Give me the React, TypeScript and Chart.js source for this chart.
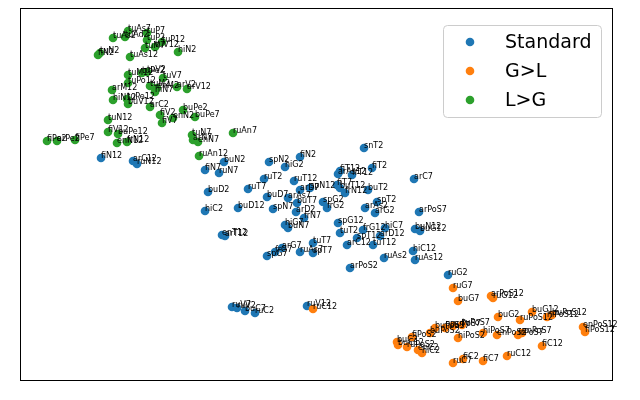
import { useEffect, useRef } from "react";
import { Chart, ScatterController, PointElement, LinearScale } from "chart.js";
import type { Plugin } from "chart.js";

Chart.register(ScatterController, PointElement, LinearScale);

// series names (legend order)
const seriesNames = ["Standard", "G>L", "L>G"];
const seriesColors = ["#1f77b4", "#ff7f0e", "#2ca02c"];

// Standard
const stdLabels = [
  "snT2", "fiN2", "spN2", "hiG2", "buN2", "fiN7", "ruN7", "ruT2", "ruT12", "ruT7",
  "buD2", "buD7", "arAs7", "arD7", "spN12", "buT7", "spG2", "frG2", "hiC2", "buD12",
  "spN7", "arD2", "frN7", "hiG7", "buN7", "enT12", "arT12", "fiT12", "arAs12", "frT12",
  "fiT2", "fiT7", "buT12", "frN12", "buT2", "arC7", "spT2", "arAs2", "arG2", "arPoS7",
  "spG12", "tuT2", "frG12", "hiC7", "arD12", "spT12", "arC12", "tuT12", "buN12", "buG12",
  "tuT7", "spT7", "ruAs7", "arG7", "frG7", "spG7", "arPoS2", "ruAs2", "hiC12", "ruAs12",
  "ruG2", "ruV7", "ruV2", "buC7", "ruC2", "ruV12", "fiN12", "arC12", "ruN12",
];
const stdX = [
  344, 280, 249, 265, 204, 185, 199, 244, 274, 228,
  188, 247, 268, 280, 290, 277, 303, 307, 185, 218,
  253, 276, 284, 265, 268, 202, 205, 320, 318, 332,
  352, 317, 320, 325, 348, 394, 357, 345, 355, 399,
  318, 320, 343, 365, 360, 337, 327, 353, 395, 400,
  293, 293, 280, 262, 255, 247, 330, 364, 393, 395,
  428, 212, 217, 225, 235, 287, 81, 113, 117,
];
const stdY = [
  232, 223, 218, 213, 218, 210, 207, 201, 199, 191,
  188, 183, 182, 190, 192, 177, 178, 172, 169, 172,
  171, 168, 162, 155, 152, 145, 144, 209, 206, 205,
  212, 195, 192, 187, 190, 201, 178, 172, 167, 168,
  157, 147, 150, 152, 144, 142, 135, 135, 151, 149,
  137, 127, 128, 132, 128, 124, 112, 122, 129, 120,
  105, 73, 72, 69, 67, 74, 222, 219, 216,
];

// G>L
const glLabels = [
  "ruC12", "ruG7", "buG7", "arPoS12", "ruG12", "buG2", "buG12", "ruPoS12", "hiPoS12", "buPoS12",
  "enPoS12", "fiPoS12", "fiC12", "ruC12", "fiC7", "fiC2", "ruC7", "hiPoS2", "enPoS7", "enPoS2",
  "hiPoS7", "buPoS7", "fiPoS7", "ruPoS7", "tuPoS7", "buPoS2", "fiPoS2", "buC2", "buC12", "ruPoS2",
  "enC2", "hiC2", "frPoS7",
];
const glX = [
  293, 433, 438, 471, 473, 478, 512, 500, 527, 532,
  563, 565, 522, 487, 463, 443, 433, 438, 502, 477,
  463, 415, 425, 433, 442, 410, 392, 377, 378, 387,
  398, 402, 498,
];
const glY = [
  71, 92, 79, 84, 82, 63, 68, 60, 63, 65,
  53, 48, 34, 24, 19, 21, 17, 42, 47, 45,
  47, 52, 52, 54, 55, 47, 43, 38, 35, 33,
  30, 27, 45,
];

// L>G
const lgLabels = [
  "tuAs2", "tuAd2", "tuAs7", "tuP7", "tuP2", "tuP12", "tuM7", "tuV12", "hiN2", "fiN2",
  "tuN2", "tuAs12", "tuM12", "tuPe2", "tuV2", "tuV7", "tuPo12", "arM12", "tuM2", "enM2",
  "hiN7", "arV2", "arV12", "hiN12", "tuPe12", "buV12", "arC2", "fiV2", "fiV7", "enN2",
  "buPe2", "buPe7", "tuN12", "fiV12", "buPe12", "enN12", "frN12", "fiPe2", "arPe2", "fiPe7",
  "tuN7", "arN7", "enN7", "ruAn7", "ruAn12",
];
const lgX = [
  93, 105, 108, 127, 127, 142, 125, 135, 158, 78,
  80, 110, 108, 122, 127, 143, 108, 92, 130, 137,
  135, 157, 167, 93, 107, 108, 130, 140, 142, 153,
  163, 175, 88, 88, 98, 97, 107, 27, 37, 55,
  172, 173, 178, 213, 179,
];
const lgY = [
  342, 343, 349, 347, 340, 338, 332, 333, 328, 325,
  327, 323, 305, 307, 308, 302, 297, 290, 294, 292,
  288, 293, 291, 280, 281, 276, 273, 265, 257, 262,
  270, 263, 260, 248, 246, 237, 238, 239, 239, 240,
  245, 240, 238, 247, 224,
];

const seriesLabels = [stdLabels, glLabels, lgLabels];
const seriesX = [stdX, glX, lgX];
const seriesY = [stdY, glY, lgY];

const FONT = "'DejaVu Sans', sans-serif";

const decorations: Plugin<"scatter"> = {
  id: "decorations",
  afterDatasetsDraw(chart) {
    const { ctx, chartArea } = chart;
    ctx.save();

    // point annotations
    ctx.font = `8px ${FONT}`;
    ctx.fillStyle = "#000";
    ctx.textAlign = "left";
    ctx.textBaseline = "alphabetic";
    chart.data.datasets.forEach((_ds, i) => {
      const meta = chart.getDatasetMeta(i);
      meta.data.forEach((pt, j) => {
        ctx.fillText(seriesLabels[i][j], pt.x, pt.y);
      });
    });

    // axes frame
    ctx.strokeStyle = "#000";
    ctx.lineWidth = 1;
    ctx.strokeRect(
      Math.round(chartArea.left) + 0.5,
      Math.round(chartArea.top) + 0.5,
      Math.round(chartArea.width),
      Math.round(chartArea.height)
    );

    // legend
    const lw = 158;
    const lh = 92;
    const lx = chartArea.right - 11 - lw;
    const ly = chartArea.top + 17;
    ctx.beginPath();
    ctx.roundRect(lx + 0.5, ly + 0.5, lw, lh, 4);
    ctx.fillStyle = "rgba(255,255,255,0.8)";
    ctx.fill();
    ctx.strokeStyle = "#cccccc";
    ctx.stroke();

    ctx.font = `19px ${FONT}`;
    ctx.textBaseline = "middle";
    seriesNames.forEach((name, i) => {
      const cy = ly + 17 + i * 29;
      ctx.beginPath();
      ctx.arc(lx + 27, cy, 4.3, 0, Math.PI * 2);
      ctx.fillStyle = seriesColors[i];
      ctx.fill();
      ctx.fillStyle = "#000";
      ctx.fillText(name, lx + 62, cy + 1);
    });

    ctx.restore();
  },
};

export default function App() {
  const canvasRef = useRef<HTMLCanvasElement>(null);

  useEffect(() => {
    document.body.style.margin = "0";
    const canvas = canvasRef.current;
    if (!canvas) return;

    const chart = new Chart(canvas, {
      type: "scatter",
      data: {
        datasets: seriesNames.map((name, i) => ({
          label: name,
          data: seriesX[i].map((x, j) => ({ x, y: seriesY[i][j] })),
          backgroundColor: seriesColors[i],
          borderWidth: 0,
          pointRadius: 4.3,
          order: 2 - i,
        })),
      },
      options: {
        animation: false,
        responsive: false,
        events: [],
        layout: { padding: { left: 20, right: 28, top: 8, bottom: 20 } },
        plugins: {
          legend: { display: false },
          tooltip: { enabled: false },
        },
        scales: {
          x: { type: "linear", display: false, min: 0, max: 592 },
          y: { type: "linear", display: false, min: 0, max: 372 },
        },
      },
      plugins: [decorations],
    });

    return () => {
      chart.destroy();
    };
  }, []);

  return (
    <div style={{ width: 640, height: 400, background: "#fff" }}>
      <canvas ref={canvasRef} width={640} height={400} />
    </div>
  );
}
